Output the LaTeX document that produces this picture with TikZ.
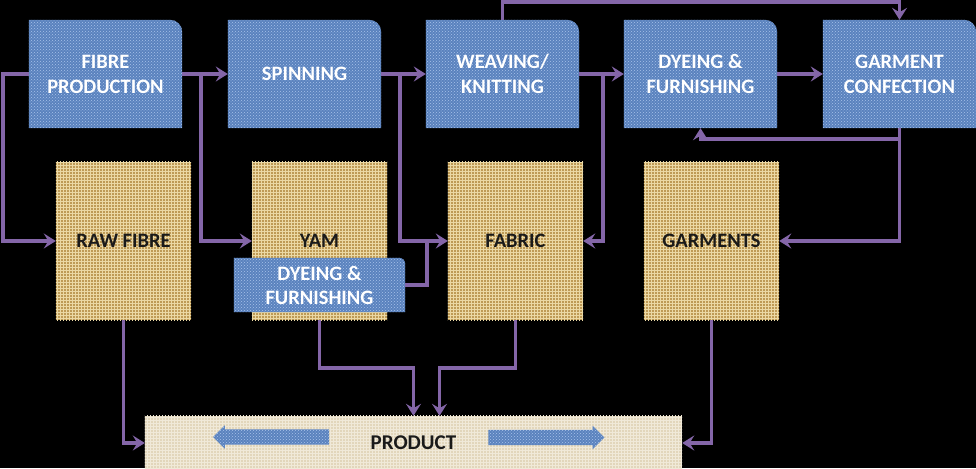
\documentclass[tikz,border=0pt]{standalone}
\usepackage{fontspec}
\setmainfont{Carlito}
\usetikzlibrary{arrows.meta,patterns,shapes.arrows}
\pgfdeclarelayer{background}
\pgfsetlayers{background,main}
\definecolor{denim}{HTML}{5A82BE}
\definecolor{denimlight}{HTML}{A9C3EA}
\definecolor{burlap}{HTML}{BE9A55}
\definecolor{burlaplight}{HTML}{EBD8A4}
\definecolor{linen}{HTML}{E2D6BB}
\definecolor{linenlight}{HTML}{F0E9D8}
\definecolor{flowc}{HTML}{8466A8}
\definecolor{textdark}{HTML}{1A1A1A}
\newcommand\stagefill[2]{%
  \fill[denimfill] (#1.south west) |- ([xshift=-#2]#1.north east)
    arc[start angle=90,end angle=0,radius=#2] -- (#1.south east) -- cycle;}
\newcommand\goodsfill[2]{\fill[#2] (#1.south west) rectangle (#1.north east);}
\begin{document}
\begin{tikzpicture}[x=1pt,y=-1pt,
  stage/.style={inner sep=0pt,minimum width=153pt,minimum height=108pt,align=center,
    text=white,font=\bfseries\fontsize{20.5}{25}\selectfont},
  goods/.style={inner sep=0pt,minimum width=135pt,minimum height=158pt,align=center,
    text=textdark,font=\bfseries\fontsize{20.5}{25}\selectfont},
  denimfill/.style={fill=denim,postaction={pattern=crosshatch dots,pattern color=denimlight}},
  burlapfill/.style={fill=burlap,postaction={pattern=grid,pattern color=burlaplight}},
  linenfill/.style={fill=linen,postaction={pattern=grid,pattern color=linenlight}},
  flow/.style={draw=flowc,line width=3.5pt,-{Stealth[length=12pt,width=15pt,inset=4.5pt]}},
  joinline/.style={draw=flowc,line width=3.5pt},
  bluearrow/.style={single arrow,denimfill,inner xsep=0pt,inner ysep=7.5pt,
    single arrow head extend=4pt,minimum height=116pt}
]
\useasboundingbox (0,0) rectangle (976,468);
% stages
\node[stage] (fp)  at (105.5,74) {FIBRE\\PRODUCTION};
\node[stage] (sp)  at (304.5,74) {SPINNING};
\node[stage] (wk)  at (502.5,74) {WEAVING/\\KNITTING};
\node[stage] (dye) at (700.5,74) {DYEING \&\\FURNISHING};
\node[stage] (gc)  at (899.5,74) {GARMENT\\CONFECTION};
% goods
\node[goods] (rf)  at (123.5,241) {RAW FIBRE};
\node[goods] (yam) at (319.5,241) {YAM};
\node[goods] (fab) at (515.5,241) {FABRIC};
\node[goods] (gar) at (711.5,241) {GARMENTS};
\node[stage,minimum width=171pt,minimum height=54pt,font=\bfseries\fontsize{20.5}{24}\selectfont] (dy2) at (319.5,285) {DYEING \&\\FURNISHING};
% product
\node[inner sep=0pt,minimum width=537pt,minimum height=54pt,text=textdark,
  font=\bfseries\fontsize{21}{25}\selectfont] (prod) at (413.5,443) {PRODUCT};
\node[bluearrow,shape border rotate=180] (la) at (275,437) {};
\node[bluearrow] (ra) at (542.5,437.5) {};
% fills
\begin{pgfonlayer}{background}
\fill[black] (0,0) rectangle (976,468);
\foreach \n in {fp,sp,wk,dye,gc}{\stagefill{\n}{12pt}}
\foreach \n in {rf,yam,fab,gar}{\goodsfill{\n}{burlapfill}}
\stagefill{dy2}{6pt}
\goodsfill{prod}{linenfill}
\end{pgfonlayer}
% connectors
\draw[flow] (fp.west) -- ++(-26,0) |- (rf.west);
\draw[flow] (fp.east) -- (sp.west);
\draw[flow] (fp.east) -- ++(19,0) |- (yam.west);
\draw[flow] (sp.east) -- (wk.west);
\draw[flow] (sp.east) -- ++(19,0) |- (fab.west);
\draw[joinline] (dy2.east) -| ([xshift=-21pt]fab.west);
\draw[flow] (wk.east) -- (dye.west);
\draw[flow] (wk.east) -- ++(24,0) |- (fab.east);
\draw[flow] (dye.east) -- (gc.west);
\draw[flow] (wk.north) -- ++(0,-18) -| (gc.north);
\draw[flow] (gc.south) -- ++(0,11) -| (dye.south);
\draw[flow] (gc.south) |- (gar.east);
\draw[flow] (rf.south) |- (prod.west);
\draw[flow] (yam.south) -- ++(0,48) -| (prod.north);
\draw[flow] (fab.south) -- ++(0,48) -| ([xshift=26pt]prod.north);
\draw[flow] (gar.south) |- (prod.east);
\end{tikzpicture}
\end{document}
